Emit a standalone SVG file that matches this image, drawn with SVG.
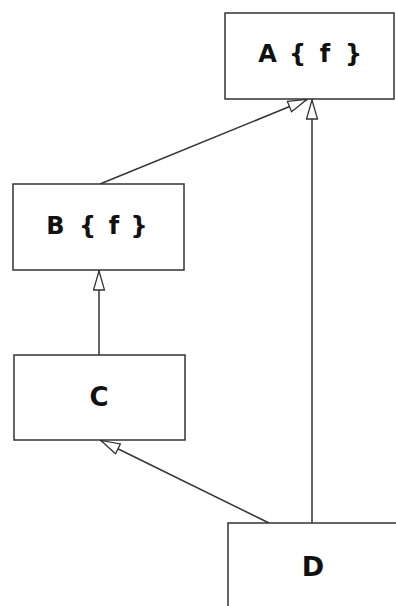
<svg xmlns="http://www.w3.org/2000/svg" width="396" height="606" viewBox="0 0 396 606">
<style>
.box{fill:#fff;stroke:#333;stroke-width:1.5}
.lbl{font-family:"DejaVu Sans",sans-serif;font-weight:bold;font-size:24px;fill:#111;text-anchor:middle}
.conn{stroke:#333;stroke-width:1.5;fill:none}
</style>
<defs>
<marker id="tri" viewBox="0 0 21 13" refX="21" refY="6.5" markerWidth="21" markerHeight="13" markerUnits="userSpaceOnUse" orient="auto">
<path d="M1,1 L20,6.5 L1,12 Z" fill="#fff" stroke="#333" stroke-width="1.3"/>
</marker>
</defs>
<rect width="396" height="606" fill="#fff"/>
<g id="connectors">
<line class="conn" x1="100" y1="184" x2="308" y2="99" marker-end="url(#tri)"/>
<line class="conn" x1="312" y1="523" x2="312" y2="99" marker-end="url(#tri)"/>
<line class="conn" x1="99" y1="355" x2="99" y2="270" marker-end="url(#tri)"/>
<line class="conn" x1="269" y1="523" x2="100" y2="440" marker-end="url(#tri)"/>
</g>
<g id="node-A">
<rect class="box" x="225" y="13" width="169" height="86"/>
<text class="lbl" x="267.5 282 297.5 311 325 339 353.5" y="62">A { f }</text>
</g>
<g id="node-B">
<rect class="box" x="13" y="184" width="171" height="86"/>
<text class="lbl" x="55.5 72 87.5 100 114 126 139" y="234">B { f }</text>
</g>
<g id="node-C">
<rect class="box" x="14" y="355" width="171" height="85"/>
<text class="lbl" x="99" y="406" style="font-size:26px">C</text>
</g>
<g id="node-D">
<rect class="box" x="228" y="523" width="175" height="90"/>
<text class="lbl" x="313" y="576" style="font-size:27px">D</text>
</g>
</svg>
